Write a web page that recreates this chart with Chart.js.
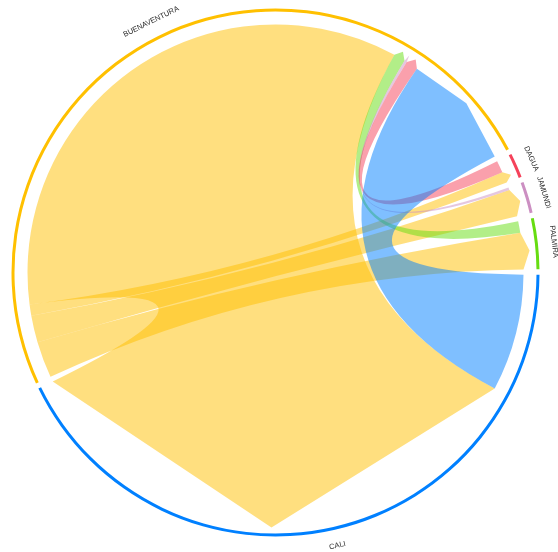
<!DOCTYPE html>
<html>
<head>
<meta charset="utf-8">
<script src="https://cdn.jsdelivr.net/npm/chart.js@4"></script>
<style>
  html, body { margin: 0; padding: 0; background: #fff; }
  #wrap { width: 558px; height: 552px; }
</style>
</head>
<body>
<div id="wrap"><canvas id="chordchart"></canvas></div>
<script>
// nodes in clockwise order, starting just below 3 o'clock
const nodes = ['CALI', 'BUENAVENTURA', 'DAGUA', 'JAMUNDI', 'PALMIRA'];
const nodeColors = ['#0080FF', '#FFC000', '#F5425A', '#CC8FC2', '#66DD11'];

// links (source -> target), in the order they are stacked on each node
const linkFrom   = ['BUENAVENTURA', 'BUENAVENTURA', 'BUENAVENTURA', 'BUENAVENTURA', 'PALMIRA', 'JAMUNDI', 'DAGUA', 'CALI'];
const linkTo     = ['PALMIRA', 'JAMUNDI', 'DAGUA', 'CALI', 'BUENAVENTURA', 'BUENAVENTURA', 'BUENAVENTURA', 'BUENAVENTURA'];
const linkValues = [85, 63, 26, 1257, 27, 6, 28, 273];

const gapDeg = 1.2;

// node size = everything going in and out
const nodeTotals = nodes.map(n => {
  let t = 0;
  linkValues.forEach((v, i) => {
    if (linkFrom[i] === n) t += v;
    if (linkTo[i] === n) t += v;
  });
  return t;
});
const grand = nodeTotals.reduce((a, b) => a + b, 0);
const gapValue = grand * gapDeg / (360 - nodes.length * gapDeg);

// doughnut data: node, gap, node, gap ...
const ringData = [];
const ringColors = [];
nodes.forEach((n, i) => {
  ringData.push(nodeTotals[i], gapValue);
  ringColors.push(nodeColors[i], 'rgba(0,0,0,0)');
});

function hexA(hex, a) {
  const n = parseInt(hex.slice(1), 16);
  return 'rgba(' + (n >> 16) + ',' + ((n >> 8) & 255) + ',' + (n & 255) + ',' + a + ')';
}

const chordPlugin = {
  id: 'chord',
  beforeDatasetsDraw(chart) {
    const arcs = chart.getDatasetMeta(0).data;
    const ctx = chart.ctx;
    const cx = arcs[0].x, cy = arcs[0].y;
    const r = arcs[0].innerRadius - 13;
    const head = 7;

    // stack outgoing first, then incoming, on every node
    const src = [], dst = [];
    nodes.forEach((n, i) => {
      const arc = arcs[i * 2];
      const k = (arc.endAngle - arc.startAngle) / nodeTotals[i];
      let cur = arc.startAngle;
      linkValues.forEach((v, j) => {
        if (linkFrom[j] === n) { src[j] = [cur, cur + v * k]; cur += v * k; }
      });
      linkValues.forEach((v, j) => {
        if (linkTo[j] === n) { dst[j] = [cur, cur + v * k]; cur += v * k; }
      });
    });

    const px = (a, rr) => [cx + rr * Math.cos(a), cy + rr * Math.sin(a)];
    ctx.save();
    linkValues.forEach((v, j) => {
      const [s1, s2] = src[j];
      const [t1, t2] = dst[j];
      const tm = (t1 + t2) / 2;
      ctx.beginPath();
      ctx.arc(cx, cy, r, s1, s2);
      ctx.quadraticCurveTo(cx, cy, ...px(t1, r));
      ctx.lineTo(...px(tm, r + head));
      ctx.lineTo(...px(t2, r));
      ctx.quadraticCurveTo(cx, cy, ...px(s1, r));
      ctx.closePath();
      ctx.fillStyle = hexA(nodeColors[nodes.indexOf(linkFrom[j])], 0.5);
      ctx.fill();
    });
    ctx.restore();
  },
  afterDatasetsDraw(chart) {
    const arcs = chart.getDatasetMeta(0).data;
    const ctx = chart.ctx;
    ctx.save();
    ctx.font = '7.5px "Liberation Sans", Arial, sans-serif';
    ctx.fillStyle = '#2b2b2b';
    ctx.textAlign = 'center';
    ctx.textBaseline = 'middle';
    nodes.forEach((n, i) => {
      const arc = arcs[i * 2];
      const a = (arc.startAngle + arc.endAngle) / 2;
      const lr = arc.outerRadius + 16;
      let rot = a + Math.PI / 2;
      rot = Math.atan2(Math.sin(rot), Math.cos(rot));
      if (rot > Math.PI / 2) rot -= Math.PI;
      if (rot < -Math.PI / 2) rot += Math.PI;
      ctx.save();
      ctx.translate(arc.x + lr * Math.cos(a), arc.y + lr * Math.sin(a));
      ctx.rotate(rot);
      ctx.fillText(n, 0, 0);
      ctx.restore();
    });
    ctx.restore();
  }
};

new Chart(document.getElementById('chordchart'), {
  type: 'doughnut',
  data: {
    labels: ringData.map((v, i) => i % 2 ? '' : nodes[i / 2]),
    datasets: [{
      data: ringData,
      backgroundColor: ringColors,
      borderWidth: 0,
      hoverOffset: 0
    }]
  },
  options: {
    responsive: true,
    maintainAspectRatio: false,
    animation: false,
    rotation: 90.5,
    cutout: 261,
    layout: { padding: { left: 11.5, top: 8.5, right: 18.5, bottom: 15.5 } },
    plugins: {
      legend: { display: false },
      tooltip: { enabled: false }
    }
  },
  plugins: [chordPlugin]
});
</script>
</body>
</html>
